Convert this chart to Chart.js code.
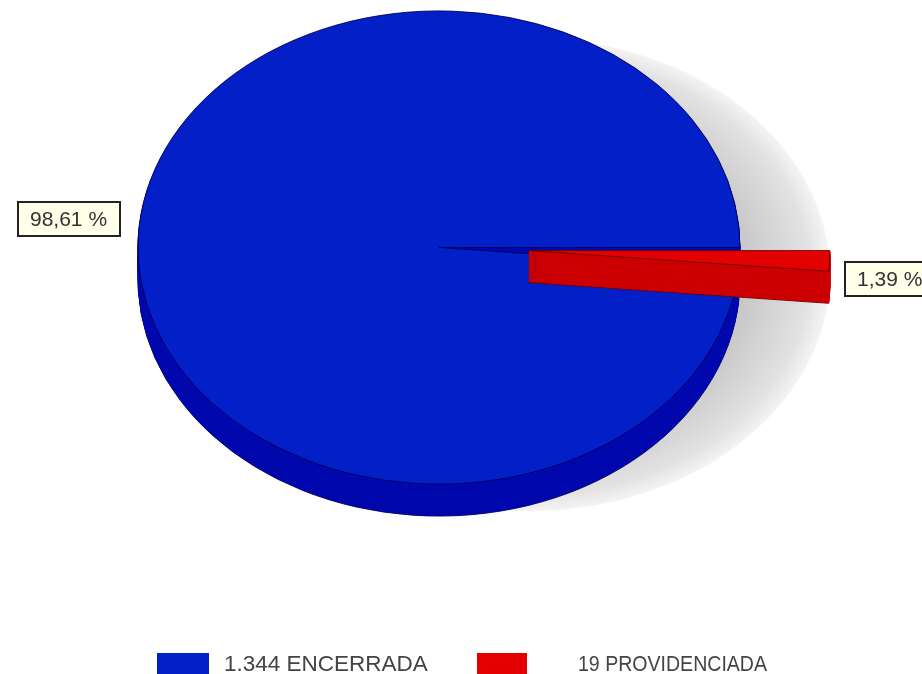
<!DOCTYPE html>
<html>
<head>
<meta charset="utf-8">
<title>Pie</title>
<script src="https://cdn.jsdelivr.net/npm/chart.js@4/dist/chart.umd.min.js"></script>
<style>
  html, body { margin: 0; padding: 0; background: #fff; overflow: hidden; }
  canvas { display: block; }
</style>
</head>
<body>
<canvas id="pie-chart" width="922" height="674"></canvas>
<script>
// values
var categories = ["ENCERRADA", "PROVIDENCIADA"];
var seriesValues = [1344, 19];
var valueLabels = ["1.344", "19"];
var percentLabels = ["98,61 %", "1,39 %"];

var faceColors = ["#0320c8", "#e20000"];
var sideColors = ["#0008ac", "#cc0000"];
var edgeColors = ["#00005a", "#6a0000"];

var squash = 0.786;    // pie is drawn as a flat ellipse
var depth = 32;        // height of the 3d side
var explode = 90;      // how far the small slice is pulled out

// draws an arc element of the chart with other colours, optionally shifted
function paintArc(ctx, arc, fill, stroke, dy, pull) {
    var real = arc.options;
    var opts = Object.create(real);
    opts.backgroundColor = fill;
    opts.borderColor = stroke;
    opts.borderWidth = 1;
    arc.options = opts;

    var mid = (arc.startAngle + arc.endAngle) / 2;
    ctx.save();
    ctx.translate(arc.x, arc.y + dy);
    ctx.scale(1, squash);
    ctx.translate(-arc.x, -arc.y);
    ctx.translate(Math.cos(mid) * pull, Math.sin(mid) * pull);
    arc.draw(ctx);
    ctx.restore();

    arc.options = real;
}

var pie3d = {
    id: "pie3d",
    beforeDatasetsDraw: function (chart) {
        var ctx = chart.ctx;
        var arcs = chart.getDatasetMeta(0).data;
        var big = arcs[0];
        var r = big.outerRadius;

        // soft shadow behind the pie
        ctx.save();
        ctx.translate(big.x + explode, big.y + 27);
        ctx.scale(1, squash);
        var grad = ctx.createRadialGradient(0, 0, 0, 0, 0, r);
        grad.addColorStop(0, "#b8b8b8");
        grad.addColorStop(0.72, "#c8c8c8");
        grad.addColorStop(0.93, "#e2e2e2");
        grad.addColorStop(1, "#f4f4f4");
        ctx.fillStyle = grad;
        ctx.beginPath();
        ctx.arc(0, 0, r, 0, Math.PI * 2);
        ctx.fill();
        ctx.restore();

        arcs.forEach(function (arc, i) {
            var pull = i === 1 ? explode : 0;
            // bottom outline first, the side layers cover the part inside
            paintArc(ctx, arc, sideColors[i], edgeColors[i], depth, pull);
            for (var d = depth - 1; d > 0; d--) {
                paintArc(ctx, arc, sideColors[i], sideColors[i], d, pull);
            }
            paintArc(ctx, arc, faceColors[i], edgeColors[i], 0, pull);
        });
        return false;
    },
    afterDraw: function (chart) {
        var ctx = chart.ctx;
        ctx.save();
        ctx.textBaseline = "middle";
        ctx.textAlign = "left";

        // percent boxes
        ctx.font = "21px 'Liberation Sans'";
        var boxes = [[18, 202, 102, 34], [845, 262, 90, 34]];
        percentLabels.forEach(function (txt, i) {
            var b = boxes[i];
            ctx.fillStyle = "#ffffea";
            ctx.fillRect(b[0], b[1], b[2], b[3]);
            ctx.strokeStyle = "#222";
            ctx.lineWidth = 2;
            ctx.strokeRect(b[0], b[1], b[2], b[3]);
            ctx.fillStyle = "#333";
            ctx.fillText(txt, b[0] + 12, b[1] + 18);
        });

        // legend
        ctx.font = "22.5px 'Liberation Sans'";
        var legendBox = [[157, 52], [477, 50]];
        var legendText = [[224, 204], [578, 189]];
        categories.forEach(function (name, i) {
            ctx.fillStyle = faceColors[i];
            ctx.fillRect(legendBox[i][0], 653, legendBox[i][1], 21);
            ctx.fillStyle = "#444";
            ctx.fillText(valueLabels[i] + " " + name, legendText[i][0], 665, legendText[i][1]);
        });
        ctx.restore();
    }
};

var chartData = {
    labels: categories,
    datasets: [{
        data: seriesValues,
        backgroundColor: faceColors,
        borderColor: edgeColors,
        borderWidth: 1
    }]
};

var chartOptions = {
    responsive: false,
    animation: false,
    radius: 301,
    rotation: 95.02,
    layout: { padding: { right: 44, bottom: 179 } },
    plugins: {
        legend: { display: false },
        tooltip: { enabled: false }
    }
};

var pieChart = new Chart(document.getElementById("pie-chart"), {
    type: "pie",
    data: chartData,
    options: chartOptions,
    plugins: [pie3d]
});
</script>
</body>
</html>
